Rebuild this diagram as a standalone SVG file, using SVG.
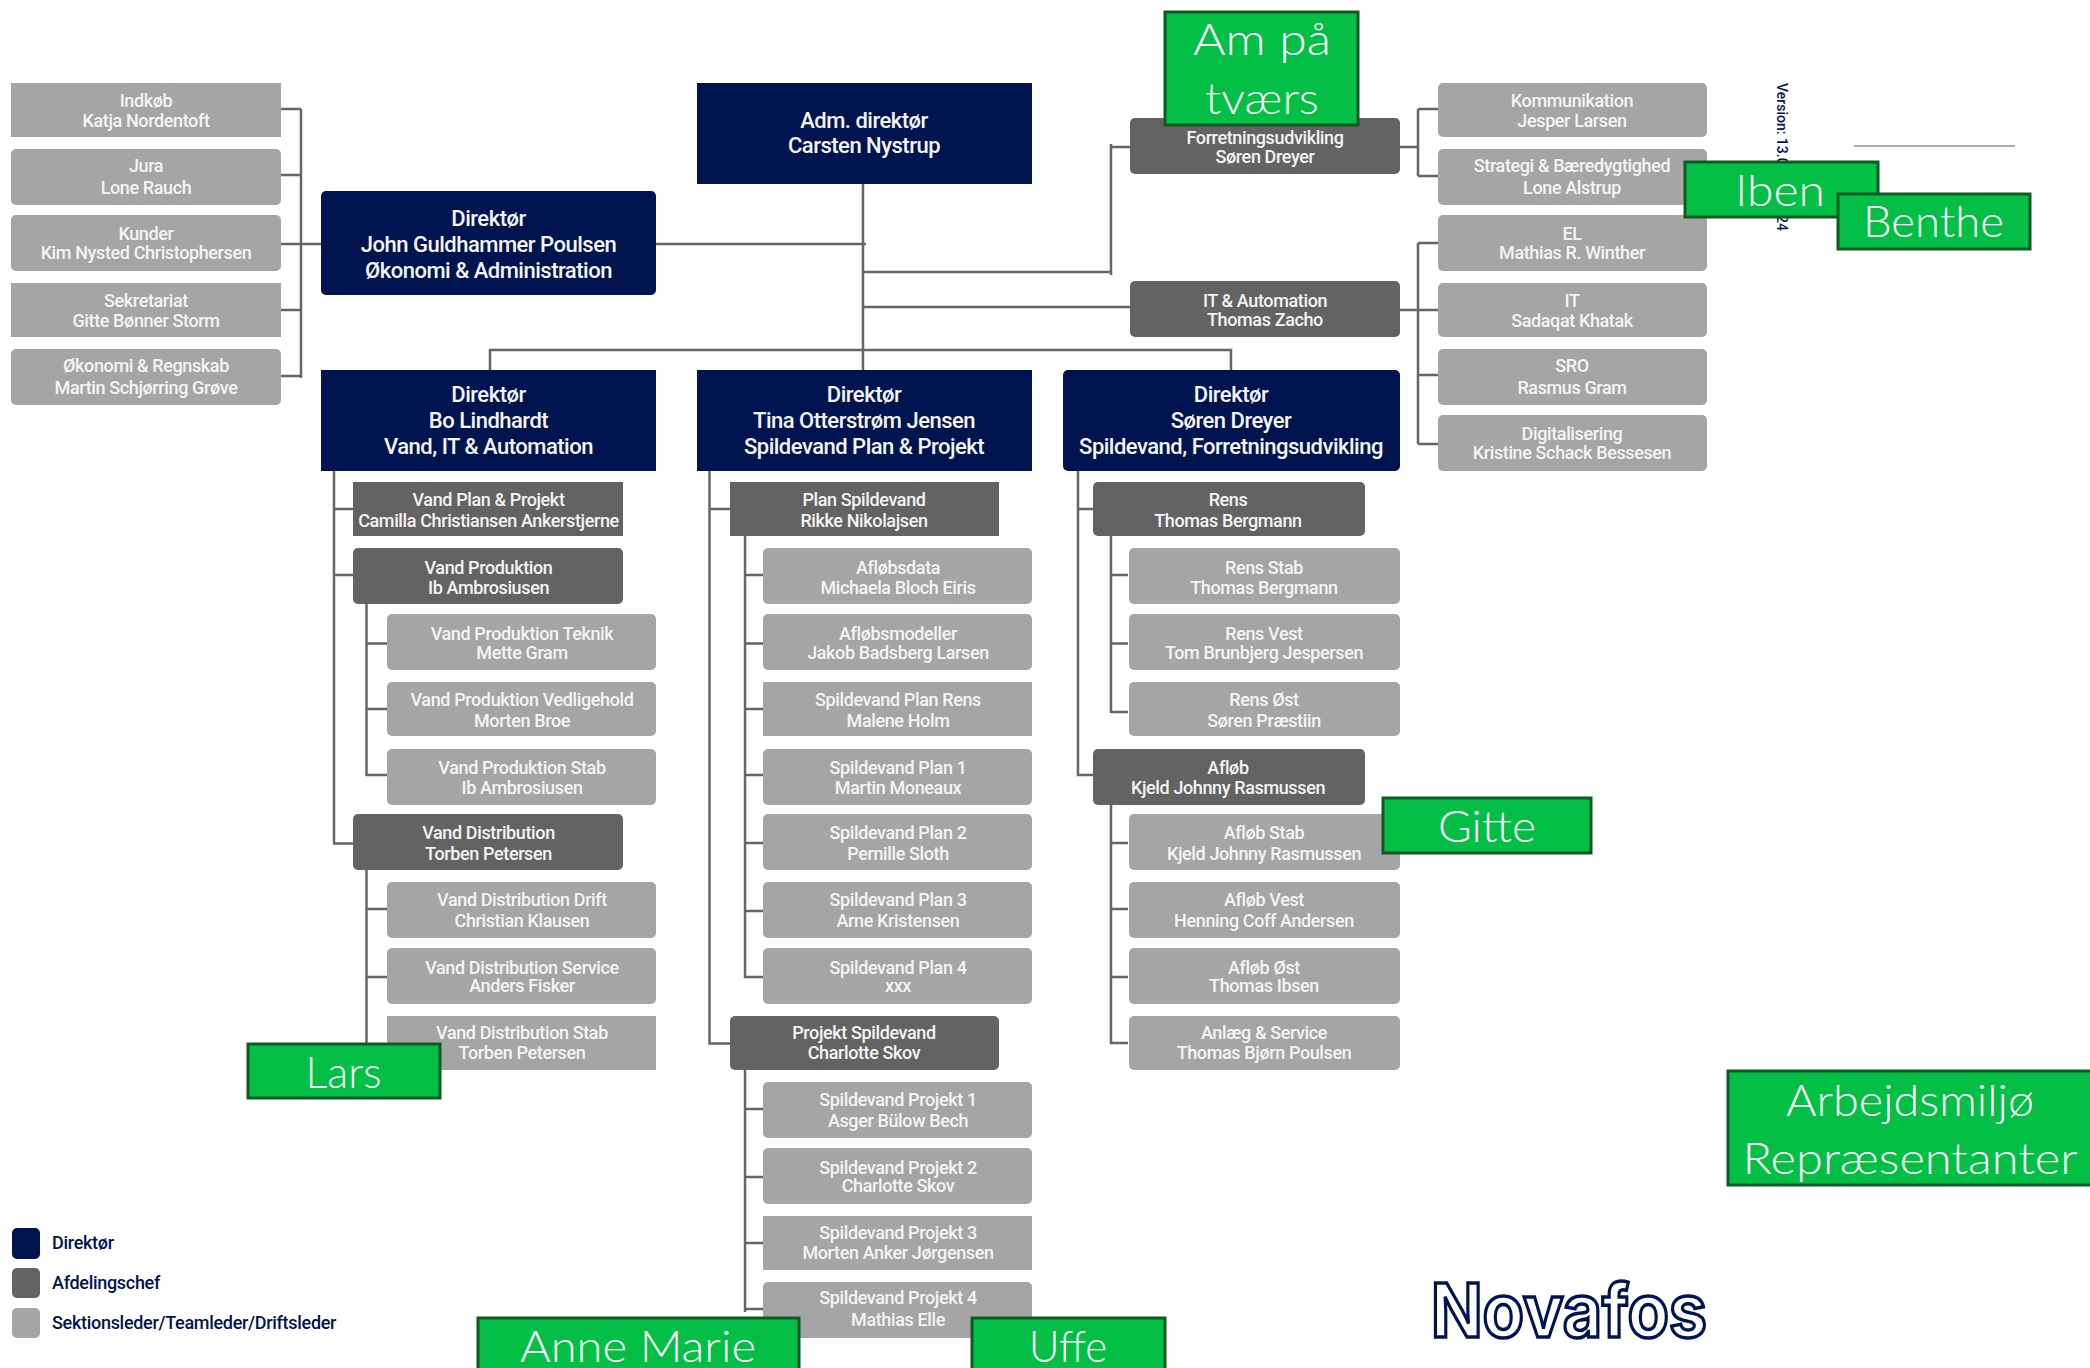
<svg xmlns="http://www.w3.org/2000/svg" width="2090" height="1368" viewBox="0 0 2090 1368">
<style>
text{font-family:Roboto,"Liberation Sans",sans-serif;text-anchor:middle;fill:#f4f4f4}
.s rect{fill:#a5a5a5}.c rect{fill:#636363}.d rect{fill:#00144f}
.s text,.c text{font-size:18px;font-weight:500;letter-spacing:-.38px;transform:translateY(.5px)}
.d text{font-size:22px;font-weight:500;letter-spacing:-.5px}
.r rect{rx:5px}
.g rect{fill:#03bf45;stroke:#0f5a24;stroke-width:3px}
.g text{font-family:Lato,"Open Sans",sans-serif;font-weight:300;font-size:44px;fill:#fff}
.l text{fill:#00144f;font-size:18px;font-weight:500;letter-spacing:-.3px;text-anchor:start}
#connectors path{fill:none;stroke:#666;stroke-width:2.5px}
</style>
<rect width="2090" height="1368" fill="#fff"/>
<g id="connectors">
<path d="M280 109H301M280 175H301M280 244H321M280 310H301M280 376H301M301 109V378"/>
<path d="M656 244H866M863 184V370M863 272H1111M1111 144V275M1111 147H1130M863 307H1130M490 370V350H1231V370"/>
<path d="M1400 147H1418M1418 109V176M1418 109H1438M1418 176H1438M1400 310H1438M1418 243V444M1418 243H1438M1418 375H1438M1418 444H1438"/>
<path d="M334 471V843.5H353M334 509H353M334 575H353"/>
<path d="M366.5 604V776M366.5 643.500H387M366.500 709H387M366.500 775H387"/>
<path d="M366.500 870V1045M366.500 909H387M366.500 977H387"/>
<path d="M709.500 471V1043.500H730M709.500 509H730"/>
<path d="M745 536V977H763M745 575H763M745 643.500H763M745 709H763M745 775H763M745 843H763M745 911H763"/>
<path d="M745 1070V1312M745 1109H763M745 1177H763M745 1243H763M745 1309H763"/>
<path d="M1078 471V775H1093M1078 509H1093"/>
<path d="M1111 536V712H1128M1111 575H1128M1111 643.500H1128"/>
<path d="M1111 804V1043H1128M1111 843H1128M1111 909H1128M1111 977H1128"/>
</g>

<g id="ceo" class="d"><rect x="697" y="83" width="335" height="101"/><text><tspan x="864" y="128">Adm. direktør</tspan><tspan x="864" y="153">Carsten Nystrup</tspan></text></g>
<g id="dir-john" class="d r"><rect x="321" y="191" width="335" height="104"/><text><tspan x="488.500" y="226">Direktør</tspan><tspan x="488.500" y="252">John Guldhammer Poulsen</tspan><tspan x="488.500" y="278">Økonomi &amp; Administration</tspan></text></g>
<g id="dir-bo" class="d"><rect x="321" y="370" width="335" height="101"/><text><tspan x="488.500" y="402">Direktør</tspan><tspan x="488.500" y="428">Bo Lindhardt</tspan><tspan x="488.500" y="454">Vand, IT &amp; Automation</tspan></text></g>
<g id="dir-tina" class="d"><rect x="697" y="370" width="335" height="101"/><text><tspan x="864" y="402">Direktør</tspan><tspan x="864" y="428">Tina Otterstrøm Jensen</tspan><tspan x="864" y="454">Spildevand Plan &amp; Projekt</tspan></text></g>
<g id="dir-soren" class="d r"><rect x="1063" y="370" width="337" height="101"/><text><tspan x="1231" y="402">Direktør</tspan><tspan x="1231" y="428">Søren Dreyer</tspan><tspan x="1231" y="454">Spildevand, Forretningsudvikling</tspan></text></g>

<g id="indkob" class="s"><rect x="11" y="83" width="270" height="54"/><text><tspan x="146" y="106">Indkøb</tspan><tspan x="146" y="126">Katja Nordentoft</tspan></text></g>
<g id="jura" class="s r"><rect x="11" y="149" width="270" height="56"/><text><tspan x="146" y="171">Jura</tspan><tspan x="146" y="193">Lone Rauch</tspan></text></g>
<g id="kunder" class="s r"><rect x="11" y="215" width="270" height="56"/><text><tspan x="146" y="239">Kunder</tspan><tspan x="146" y="258">Kim Nysted Christophersen</tspan></text></g>
<g id="sekretariat" class="s"><rect x="11" y="283" width="270" height="54"/><text><tspan x="146" y="306">Sekretariat</tspan><tspan x="146" y="326">Gitte Bønner Storm</tspan></text></g>
<g id="okonomi" class="s r"><rect x="11" y="349" width="270" height="56"/><text><tspan x="146" y="371">Økonomi &amp; Regnskab</tspan><tspan x="146" y="393">Martin Schjørring Grøve</tspan></text></g>

<g id="forretning" class="c r"><rect x="1130" y="118" width="270" height="56"/><text><tspan x="1265" y="143">Forretningsudvikling</tspan><tspan x="1265" y="162">Søren Dreyer</tspan></text></g>
<g id="it-automation" class="c r"><rect x="1130" y="281" width="270" height="56"/><text><tspan x="1265" y="306">IT &amp; Automation</tspan><tspan x="1265" y="325">Thomas Zacho</tspan></text></g>
<g id="kommunikation" class="s r"><rect x="1438" y="83" width="269" height="54"/><text><tspan x="1572" y="106">Kommunikation</tspan><tspan x="1572" y="126">Jesper Larsen</tspan></text></g>
<g id="strategi" class="s r"><rect x="1438" y="149" width="269" height="56"/><text><tspan x="1572" y="171">Strategi &amp; Bæredygtighed</tspan><tspan x="1572" y="193">Lone Alstrup</tspan></text></g>
<g id="el" class="s r"><rect x="1438" y="215" width="269" height="56"/><text><tspan x="1572" y="239">EL</tspan><tspan x="1572" y="258">Mathias R. Winther</tspan></text></g>
<g id="it" class="s r"><rect x="1438" y="283" width="269" height="54"/><text><tspan x="1572" y="306">IT</tspan><tspan x="1572" y="326">Sadaqat Khatak</tspan></text></g>
<g id="sro" class="s r"><rect x="1438" y="349" width="269" height="56"/><text><tspan x="1572" y="371">SRO</tspan><tspan x="1572" y="393">Rasmus Gram</tspan></text></g>
<g id="digitalisering" class="s r"><rect x="1438" y="415" width="269" height="56"/><text><tspan x="1572" y="439">Digitalisering</tspan><tspan x="1572" y="458">Kristine Schack Bessesen</tspan></text></g>

<g id="vand-plan" class="c"><rect x="353" y="482" width="270" height="54"/><text><tspan x="488.500" y="505">Vand Plan &amp; Projekt</tspan><tspan x="488.500" y="526">Camilla Christiansen Ankerstjerne</tspan></text></g>
<g id="vand-produktion" class="c r"><rect x="353" y="548" width="270" height="56"/><text><tspan x="488.500" y="573">Vand Produktion</tspan><tspan x="488.500" y="593">Ib Ambrosiusen</tspan></text></g>
<g id="vp-teknik" class="s r"><rect x="387" y="614" width="269" height="56"/><text><tspan x="522" y="639">Vand Produktion Teknik</tspan><tspan x="522" y="658">Mette Gram</tspan></text></g>
<g id="vp-vedligehold" class="s r"><rect x="387" y="682" width="269" height="54"/><text><tspan x="522" y="705">Vand Produktion Vedligehold</tspan><tspan x="522" y="726">Morten Broe</tspan></text></g>
<g id="vp-stab" class="s r"><rect x="387" y="749" width="269" height="56"/><text><tspan x="522" y="773">Vand Produktion Stab</tspan><tspan x="522" y="793">Ib Ambrosiusen</tspan></text></g>
<g id="vand-distribution" class="c r"><rect x="353" y="814" width="270" height="56"/><text><tspan x="488.500" y="838">Vand Distribution</tspan><tspan x="488.500" y="859">Torben Petersen</tspan></text></g>
<g id="vd-drift" class="s r"><rect x="387" y="882" width="269" height="56"/><text><tspan x="522" y="905">Vand Distribution Drift</tspan><tspan x="522" y="926">Christian Klausen</tspan></text></g>
<g id="vd-service" class="s r"><rect x="387" y="948" width="269" height="56"/><text><tspan x="522" y="973">Vand Distribution Service</tspan><tspan x="522" y="991">Anders Fisker</tspan></text></g>
<g id="vd-stab" class="s"><rect x="387" y="1016" width="269" height="54"/><text><tspan x="522" y="1038">Vand Distribution Stab</tspan><tspan x="522" y="1058">Torben Petersen</tspan></text></g>

<g id="plan-spildevand" class="c"><rect x="730" y="482" width="269" height="54"/><text><tspan x="864" y="505">Plan Spildevand</tspan><tspan x="864" y="526">Rikke Nikolajsen</tspan></text></g>
<g id="aflobsdata" class="s r"><rect x="763" y="548" width="269" height="56"/><text><tspan x="898" y="573">Afløbsdata</tspan><tspan x="898" y="593">Michaela Bloch Eiris</tspan></text></g>
<g id="aflobsmodeller" class="s r"><rect x="763" y="614" width="269" height="56"/><text><tspan x="898" y="639">Afløbsmodeller</tspan><tspan x="898" y="658">Jakob Badsberg Larsen</tspan></text></g>
<g id="plan-rens" class="s"><rect x="763" y="682" width="269" height="54"/><text><tspan x="898" y="705">Spildevand Plan Rens</tspan><tspan x="898" y="726">Malene Holm</tspan></text></g>
<g id="plan-1" class="s r"><rect x="763" y="749" width="269" height="56"/><text><tspan x="898" y="773">Spildevand Plan 1</tspan><tspan x="898" y="793">Martin Moneaux</tspan></text></g>
<g id="plan-2" class="s r"><rect x="763" y="814" width="269" height="56"/><text><tspan x="898" y="838">Spildevand Plan 2</tspan><tspan x="898" y="859">Pernille Sloth</tspan></text></g>
<g id="plan-3" class="s r"><rect x="763" y="882" width="269" height="56"/><text><tspan x="898" y="905">Spildevand Plan 3</tspan><tspan x="898" y="926">Arne Kristensen</tspan></text></g>
<g id="plan-4" class="s r"><rect x="763" y="948" width="269" height="56"/><text><tspan x="898" y="973">Spildevand Plan 4</tspan><tspan x="898" y="991">xxx</tspan></text></g>
<g id="projekt-spildevand" class="c r"><rect x="730" y="1016" width="269" height="54"/><text><tspan x="864" y="1038">Projekt Spildevand</tspan><tspan x="864" y="1058">Charlotte Skov</tspan></text></g>
<g id="projekt-1" class="s r"><rect x="763" y="1082" width="269" height="56"/><text><tspan x="898" y="1105">Spildevand Projekt 1</tspan><tspan x="898" y="1126">Asger Bülow Bech</tspan></text></g>
<g id="projekt-2" class="s r"><rect x="763" y="1148" width="269" height="56"/><text><tspan x="898" y="1173">Spildevand Projekt 2</tspan><tspan x="898" y="1191">Charlotte Skov</tspan></text></g>
<g id="projekt-3" class="s"><rect x="763" y="1216" width="269" height="54"/><text><tspan x="898" y="1238">Spildevand Projekt 3</tspan><tspan x="898" y="1258">Morten Anker Jørgensen</tspan></text></g>
<g id="projekt-4" class="s r"><rect x="763" y="1282" width="269" height="56"/><text><tspan x="898" y="1303">Spildevand Projekt 4</tspan><tspan x="898" y="1325">Mathias Elle</tspan></text></g>

<g id="rens" class="c r"><rect x="1093" y="482" width="272" height="54"/><text><tspan x="1228" y="505">Rens</tspan><tspan x="1228" y="526">Thomas Bergmann</tspan></text></g>
<g id="rens-stab" class="s r"><rect x="1129" y="548" width="271" height="56"/><text><tspan x="1264" y="573">Rens Stab</tspan><tspan x="1264" y="593">Thomas Bergmann</tspan></text></g>
<g id="rens-vest" class="s r"><rect x="1129" y="614" width="271" height="56"/><text><tspan x="1264" y="639">Rens Vest</tspan><tspan x="1264" y="658">Tom Brunbjerg Jespersen</tspan></text></g>
<g id="rens-ost" class="s r"><rect x="1129" y="682" width="271" height="54"/><text><tspan x="1264" y="705">Rens Øst</tspan><tspan x="1264" y="726">Søren Præstiin</tspan></text></g>
<g id="aflob" class="c r"><rect x="1093" y="749" width="272" height="56"/><text><tspan x="1228" y="773">Afløb</tspan><tspan x="1228" y="793">Kjeld Johnny Rasmussen</tspan></text></g>
<g id="aflob-stab" class="s r"><rect x="1129" y="814" width="271" height="56"/><text><tspan x="1264" y="838">Afløb Stab</tspan><tspan x="1264" y="859">Kjeld Johnny Rasmussen</tspan></text></g>
<g id="aflob-vest" class="s r"><rect x="1129" y="882" width="271" height="56"/><text><tspan x="1264" y="905">Afløb Vest</tspan><tspan x="1264" y="926">Henning Coff Andersen</tspan></text></g>
<g id="aflob-ost" class="s r"><rect x="1129" y="948" width="271" height="56"/><text><tspan x="1264" y="973">Afløb Øst</tspan><tspan x="1264" y="991">Thomas Ibsen</tspan></text></g>
<g id="anlaeg" class="s r"><rect x="1129" y="1016" width="271" height="54"/><text><tspan x="1264" y="1038">Anlæg &amp; Service</tspan><tspan x="1264" y="1058">Thomas Bjørn Poulsen</tspan></text></g>

<g id="legend" class="l">
<rect x="12" y="1228" width="28" height="31" rx="5" fill="#00144f"/><text x="52" y="1249">Direktør</text>
<rect x="12" y="1268" width="28" height="30" rx="5" fill="#636363"/><text x="52" y="1289">Afdelingschef</text>
<rect x="12" y="1308" width="28" height="30" rx="5" fill="#a5a5a5"/><text x="52" y="1329">Sektionsleder/Teamleder/Driftsleder</text>
</g>
<g id="version"><text transform="translate(1777 83) rotate(90)" style="text-anchor:start;fill:#00144f;font-size:14px;font-weight:500">Version: 13.0</text><text transform="translate(1777 215) rotate(90)" style="text-anchor:start;fill:#00144f;font-size:14px;font-weight:500">24</text></g>
<path id="rule" d="M1854 146H2015" stroke="#b0b0b0" stroke-width="2" fill="none"/>
<g id="logo"><text x="1569" y="1337" textLength="276" lengthAdjust="spacingAndGlyphs" style="font-family:Inter,'Liberation Sans',sans-serif;font-weight:700;font-size:74px;fill:#fff;stroke:#00144f;stroke-width:3.5px">Novafos</text></g>

<g id="am-pa-tvaers" class="g"><rect x="1165" y="12" width="193" height="113"/><text x="1262" y="55" textLength="138" lengthAdjust="spacingAndGlyphs">Am på</text><text x="1262" y="114" textLength="114" lengthAdjust="spacingAndGlyphs">tværs</text></g>
<g id="iben" class="g"><rect x="1685" y="162" width="193" height="55"/><text x="1780" y="206" textLength="90" lengthAdjust="spacingAndGlyphs">Iben</text></g>
<g id="benthe" class="g"><rect x="1838" y="194" width="192" height="55"/><text x="1933.500" y="237" textLength="141" lengthAdjust="spacingAndGlyphs">Benthe</text></g>
<g id="gitte" class="g"><rect x="1383" y="798" width="208" height="55"/><text x="1487" y="842" textLength="98" lengthAdjust="spacingAndGlyphs">Gitte</text></g>
<g id="lars" class="g"><rect x="248" y="1044" width="192" height="54"/><text x="343.500" y="1088" textLength="76" lengthAdjust="spacingAndGlyphs">Lars</text></g>
<g id="anne-marie" class="g"><rect x="478" y="1318" width="321" height="60"/><text x="638" y="1362" textLength="236" lengthAdjust="spacingAndGlyphs">Anne Marie</text></g>
<g id="uffe" class="g"><rect x="972" y="1318" width="193" height="60"/><text x="1068" y="1362" textLength="78" lengthAdjust="spacingAndGlyphs">Uffe</text></g>
<g id="arbejdsmiljo" class="g"><rect x="1728" y="1071" width="370" height="114"/><text x="1910" y="1116" textLength="248" lengthAdjust="spacingAndGlyphs">Arbejdsmiljø</text><text x="1910" y="1174" textLength="335" lengthAdjust="spacingAndGlyphs">Repræsentanter</text></g>
</svg>
